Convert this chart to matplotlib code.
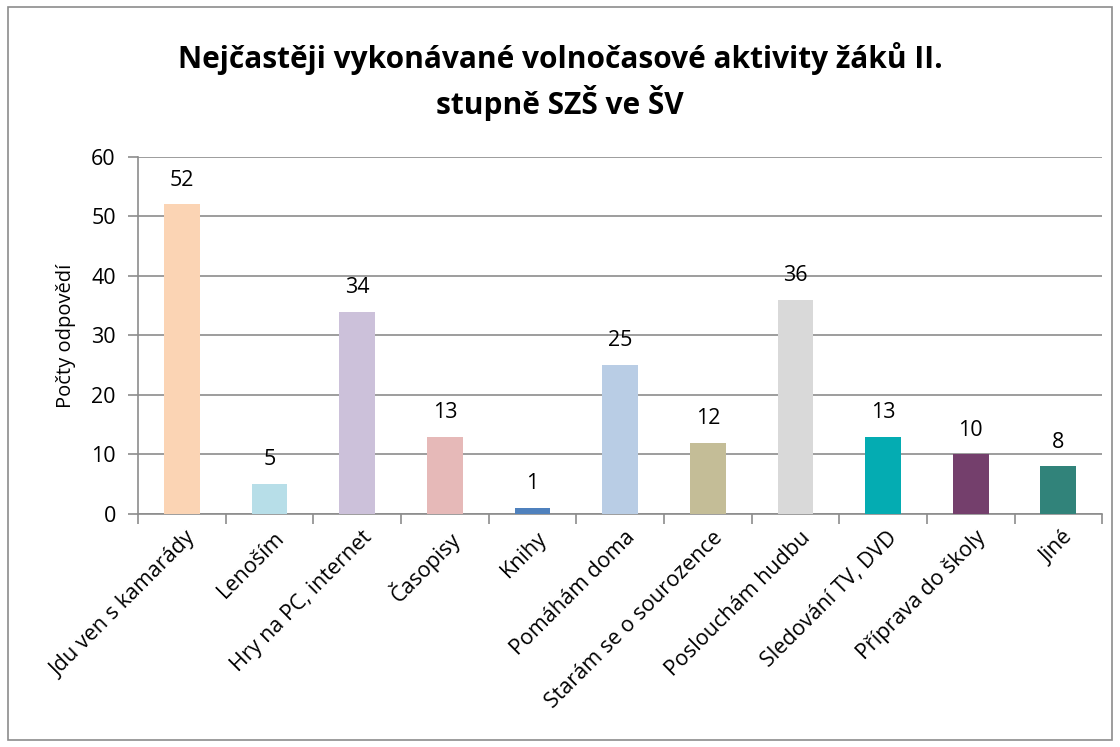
import numpy as np
import matplotlib
matplotlib.use("Agg")
import matplotlib.pyplot as plt
from matplotlib.patches import Rectangle

# Data
categories = ["Jdu ven s kamarády", "Lenoším", "Hry na PC, internet", "Časopisy",
              "Knihy", "Pomáhám doma", "Starám se o sourozence", "Poslouchám hudbu",
              "Sledování TV, DVD", "Příprava do školy", "Jiné"]
counts = [52, 5, 34, 13, 1, 25, 12, 36, 13, 10, 8]
colors = ["#FBD4B4", "#B7DEE8", "#CCC1DA", "#E6B9B8", "#4F81BD", "#B9CDE5",
          "#C4BD97", "#D9D9D9", "#04ACB2", "#743F6C", "#31837A"]

title = "Nejčastěji vykonávané volnočasové aktivity žáků II.\nstupně SZŠ ve ŠV"
ylabel = "Počty odpovědí"

plt.rcParams['font.family'] = ['Open Sans', 'DejaVu Sans']

fig = plt.figure(figsize=(11.2, 7.47), dpi=100)
ax = fig.add_axes([0.1232, 0.312, 0.861, 0.478])

# outer chart border
fig.patches.append(Rectangle((0.007, 0.01), 0.986, 0.98, transform=fig.transFigure,
                             fill=False, edgecolor="#8C8C8C", linewidth=1.2))

x = np.arange(len(categories))
bars = ax.bar(x, counts, width=0.41, color=colors, zorder=3)

for xi, v in zip(x, counts):
    ax.text(xi, v + 2.3, str(v), ha="center", va="bottom", fontsize=15.5)

ax.set_xlim(-0.5, len(categories) - 0.5)
ax.set_ylim(0, 60)
ax.set_yticks(range(0, 61, 10))
ax.yaxis.grid(True, color="#8C8C8C", linewidth=1.2, zorder=0)

# label anchors sit a bit right of the bar centre, like the original
ax.set_xticks(x + 0.13)
ax.set_xticklabels(categories, rotation=45, ha="right", va="center",
                   rotation_mode="anchor", fontsize=15.5)
ax.set_xticks(np.arange(-0.5, len(categories), 1), minor=True)
ax.tick_params(axis="x", which="major", length=0, pad=15)
ax.tick_params(axis="x", which="minor", length=7, color="#8C8C8C", width=1.2)
ax.tick_params(axis="y", length=7, color="#8C8C8C", width=1.2, labelsize=15.5, pad=9)

for s in ["top", "right"]:
    ax.spines[s].set_visible(False)
for s in ["left", "bottom"]:
    ax.spines[s].set_color("#8C8C8C")
    ax.spines[s].set_linewidth(1.2)

ax.set_ylabel(ylabel, fontsize=14.5, labelpad=11)
fig.text(0.5, 0.891, title, ha="center", va="center", fontsize=21.5,
         fontweight="bold", linespacing=1.35)

fig.savefig("out.png", dpi=100)
